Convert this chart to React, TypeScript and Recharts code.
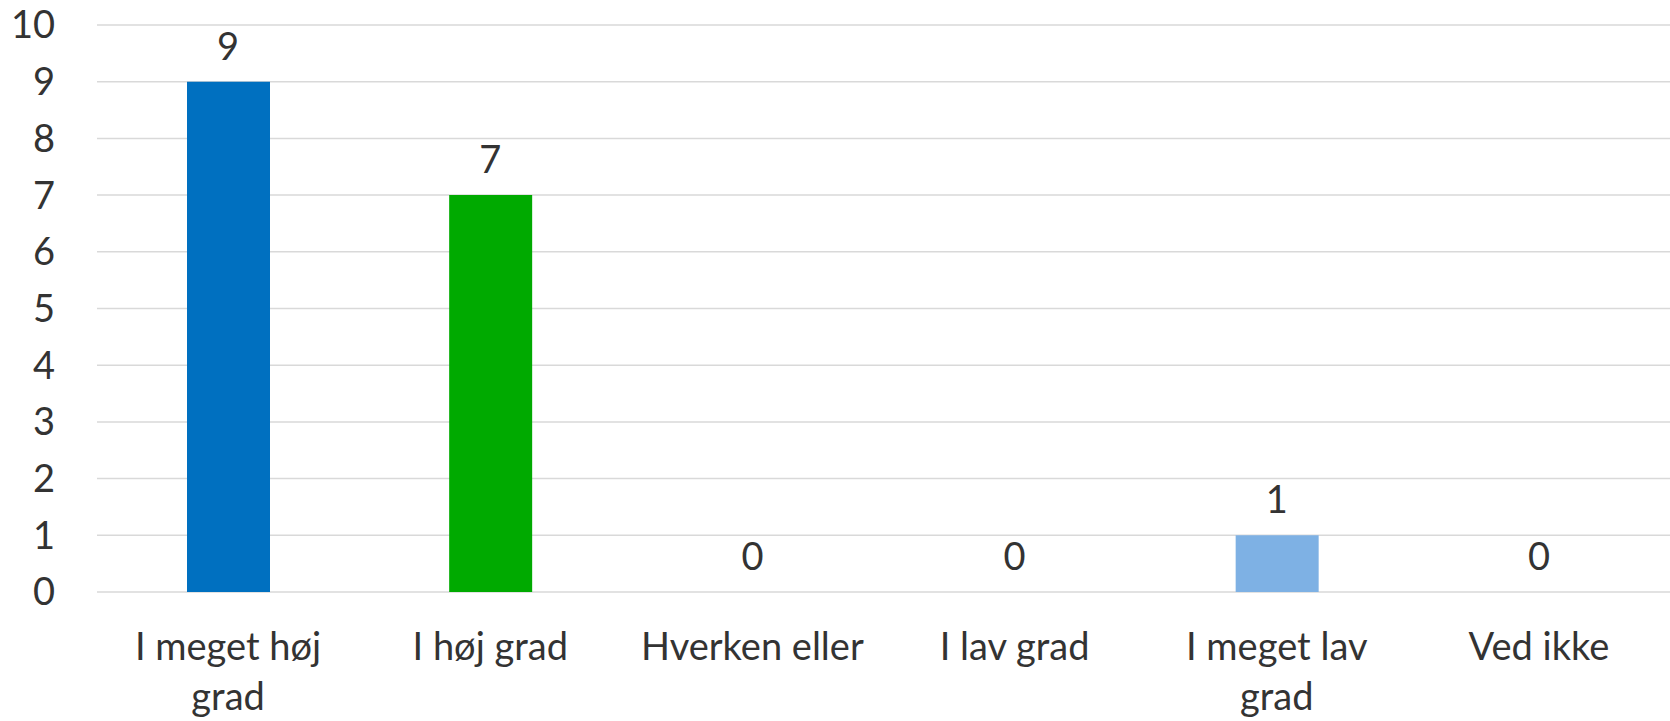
import React from 'react';
import { ComposedChart, Bar, Line, XAxis, YAxis, CartesianGrid, Cell, LabelList } from 'recharts';

const categories = ['I meget høj grad', 'I høj grad', 'Hverken eller', 'I lav grad', 'I meget lav grad', 'Ved ikke'];
const counts = [9, 7, 0, 0, 1, 0];
const barColors = ['#0070C0', '#00AA00', '#0070C0', '#0070C0', '#7EB1E4', '#0070C0'];
const yTicks = [0, 1, 2, 3, 4, 5, 6, 7, 8, 9, 10];

const data = categories.map((name, i) => ({ name, value: counts[i] }));

const FONT = 'Lato, "Open Sans", sans-serif';
const TEXT_COLOR = '#333333';
const FONT_SIZE = 38;

// greedy word wrap, close to how the source chart breaks its labels
const wrap = (label: string, maxChars: number) => {
  const lines: string[] = [];
  let cur = '';
  label.split(' ').forEach((w) => {
    const next = cur ? cur + ' ' + w : w;
    if (next.length > maxChars && cur) {
      lines.push(cur);
      cur = w;
    } else {
      cur = next;
    }
  });
  if (cur) lines.push(cur);
  return lines;
};

const CategoryTick = (props: any) => {
  const { x, y, payload } = props;
  const lines = wrap(payload.value, 13);
  return (
    <text x={x} y={y} textAnchor="middle" fill={TEXT_COLOR} fontSize={FONT_SIZE} fontFamily={FONT}>
      {lines.map((line, i) => (
        <tspan key={i} x={x} dy={i === 0 ? 0 : 50}>
          {line}
        </tspan>
      ))}
    </text>
  );
};

const App: React.FC = () => {
  return (
    <div style={{ position: 'absolute', left: 0, top: 0, background: '#fff' }}>
      <ComposedChart
        width={1670}
        height={721}
        data={data}
        margin={{ top: 25, right: 0, bottom: 0, left: 0 }}
      >
        <CartesianGrid vertical={false} stroke="#D9D9D9" strokeWidth={1.5} />
        <XAxis
          dataKey="name"
          axisLine={false}
          tickLine={false}
          tickSize={0}
          tickMargin={68}
          height={129}
          interval={0}
          tick={<CategoryTick />}
        />
        <YAxis
          domain={[0, 10]}
          ticks={yTicks}
          axisLine={false}
          tickLine={false}
          tickSize={0}
          tickMargin={42}
          width={97}
          tick={{ fill: TEXT_COLOR, fontSize: FONT_SIZE, fontFamily: FONT }}
        />
        <Bar dataKey="value" barSize={83} isAnimationActive={false}>
          {data.map((d, i) => (
            <Cell key={d.name} fill={barColors[i]} />
          ))}
        </Bar>
        {/* invisible series carrying the value labels, so zero values get a label too */}
        <Line dataKey="value" stroke="none" dot={false} activeDot={false} isAnimationActive={false}>
          <LabelList
            dataKey="value"
            position="top"
            offset={22}
            fill={TEXT_COLOR}
            fontSize={FONT_SIZE}
            fontFamily={FONT}
          />
        </Line>
      </ComposedChart>
    </div>
  );
};

export default App;
